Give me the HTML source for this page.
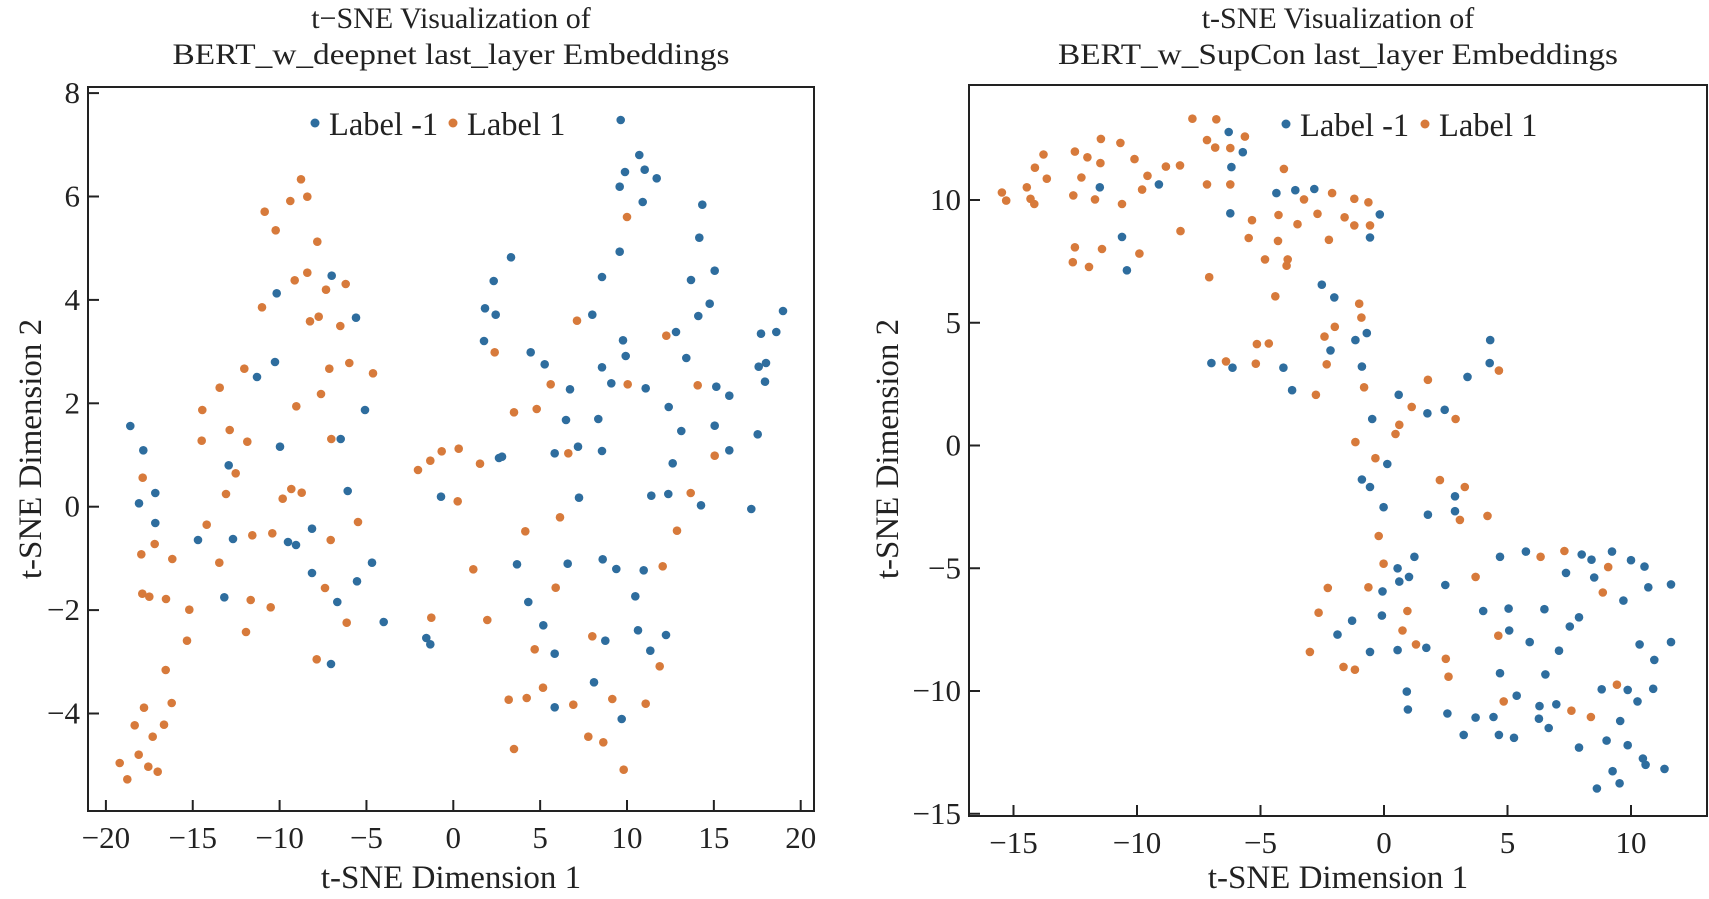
<!DOCTYPE html>
<html><head><meta charset="utf-8"><style>
html,body{margin:0;padding:0;background:#fff;}
svg{display:block;font-family:"Liberation Serif",serif;}
</style></head><body>
<svg id="s" width="1709" height="899" viewBox="0 0 1709 899" xmlns="http://www.w3.org/2000/svg">
<rect width="1709" height="899" fill="#fff"/>
<g id="pts"></g>
<g fill="#222" font-size="33" text-anchor="middle">
<text x="451" y="28" font-size="30">t−SNE Visualization of</text>
<text x="451" y="64" font-size="30" textLength="557" lengthAdjust="spacingAndGlyphs">BERT_w_deepnet last_layer Embeddings</text>
<text x="1338" y="28" font-size="30">t-SNE Visualization of</text>
<text x="1338" y="64" font-size="30" textLength="560" lengthAdjust="spacingAndGlyphs">BERT_w_SupCon last_layer Embeddings</text>
<text x="451" y="888">t-SNE Dimension 1</text>
<text x="1338" y="888">t-SNE Dimension 1</text>
<text transform="translate(41,449) rotate(-90)">t-SNE Dimension 2</text>
<text transform="translate(898,449) rotate(-90)">t-SNE Dimension 2</text>
</g>
<g id="axes" fill="none" stroke="#222" stroke-width="2"></g>
<g id="lbl" fill="#222" font-size="31"></g>
<g font-size="32.5" fill="#222">
<circle cx="315" cy="123" r="4.5" fill="#2e6d9e"/><text x="329" y="135">Label -1</text>
<circle cx="453" cy="123" r="4.5" fill="#d77a3b"/><text x="467" y="135">Label 1</text>
<circle cx="1286" cy="124" r="4.5" fill="#2e6d9e"/><text x="1300" y="136">Label -1</text>
<circle cx="1425" cy="124" r="4.5" fill="#d77a3b"/><text x="1439" y="136">Label 1</text>
</g>
</svg>
<script>
var NS="http://www.w3.org/2000/svg";
function el(p,t,a,txt){var e=document.createElementNS(NS,t);for(var k in a)e.setAttribute(k,a[k]);if(txt!==undefined)e.textContent=txt;document.getElementById(p).appendChild(e);}
var B="#2e6d9e",O="#d77a3b";
function dot(x,y,c){el("pts","circle",{cx:x.toFixed(1),cy:y.toFixed(1),r:4.3,fill:c});}
var z1b=[[391,1098],[430,1171],[830,700],[825,906],[771,951],[995,647],[1068,773],[1022,1137],[1095,1050],[840,1160],[686,1216],[1481,663],[1455,745],[1487,764],[1452,843],[1497,1194]];
var z1o=[[903,358],[922,410],[871,423],[794,455],[827,511],[952,545],[922,638],[884,661],[978,689],[1037,672],[786,742],[930,784],[956,770],[1021,798],[988,926],[1048,909],[1119,940],[963,1002],[889,1039],[733,926],[659,983],[607,1050],[689,1110],[605,1142],[742,1145],[994,1137],[1254,1230],[1291,1202],[1325,1174],[1376,1166],[1440,1211],[1484,877],[707,1240],[428,1253]];
z1b.forEach(function(p){dot(p[0]/3,60+p[1]/3,B)});z1o.forEach(function(p){dot(p[0]/3,60+p[1]/3,O)});
var z2b=[[417,130],[466,99],[466,189],[594,240],[699,237],[673,412],[936,206],[864,246],[888,255],[936,339],[1043,93],[1116,308],[1071,364],[1012,426],[1151,486],[993,612],[1279,534],[1291,553],[1323,110]];
var z2o=[[424,283],[464,252],[517,297],[620,194],[658,308],[678,102],[757,226],[817,220],[848,116],[874,87],[905,98],[1074,186],[992,240],[975,384],[752,420],[812,442],[738,516],[568,449],[498,417],[427,401],[448,410],[561,542],[497,630],[515,729],[432,743],[404,796],[492,794],[458,830],[416,884],[359,909],[445,920],[473,935],[382,958],[950,598],[1040,488],[1294,473],[1373,124],[1420,328],[1462,480]];
z2b.forEach(function(p){dot(p[0]/3,460+p[1]/3,B)});z2o.forEach(function(p){dot(p[0]/3,460+p[1]/3,O)});
var z6b=[[93,592],[422,180],[478,285],[435,336],[494,329],[530,355],[419,380],[488,426],[667,434],[658,533],[419,575],[366,651],[633,660],[704,632],[689,731],[655,768],[909,753],[337,764],[588,816],[843,821],[889,816],[429,841],[437,888],[152,877],[194,913],[366,922],[619,894],[836,920],[858,909],[855,965],[394,970],[270,988],[497,985],[709,980],[748,1007],[566,1041],[258,1080],[355,1077],[604,1113],[704,1097],[833,1123],[224,1180],[294,1160],[366,1173],[748,1171],[66,1190]];
var z6o=[[441,471],[291,782],[559,827],[212,973],[443,973],[653,976],[102,1057],[170,1047],[265,1180],[704,1187]];
z6b.forEach(function(p){dot(480+p[0]/3,60+p[1]/3,B)});z6o.forEach(function(p){dot(480+p[0]/3,60+p[1]/3,O)});
var z7b=[[578,70],[297,173],[514,167],[565,162],[663,196],[814,207],[111,373],[263,371],[368,358],[409,387],[491,391],[466,469],[145,486],[190,556],[474,571],[558,585],[376,602],[224,641],[511,632],[342,727],[224,802],[425,837]];
var z7o=[[632,159],[240,232],[136,274],[591,272],[548,379],[227,443],[337,589],[164,628],[539,679],[189,743],[86,779],[140,774],[280,794],[397,777],[497,791],[102,927],[325,890],[370,907],[431,989]];
z7b.forEach(function(p){dot(480+p[0]/3,440+p[1]/3,B)});z7o.forEach(function(p){dot(480+p[0]/3,440+p[1]/3,O)});
var rb=[[681,229],[707,264],[686,290],[443,325],[552,320],[684,370],[484,411],[493,469],[769,335],[804,330],[839,328],[960,372],[942,412],[853,494],[876,516],[936,578],[915,590],[869,608],[927,636],[782,638],[688,638],[649,630],[798,677],[1164,590],[1163,630],[1122,654],[995,685],[1048,717],[1080,711],[946,727],[974,805],[927,832],[942,845],[967,880],[1099,861],[1099,887],[1049,893],[1024,966],[993,986],[1014,1001],[996,1009],[1081,1015],[965,1026],[1182,966],[1230,957],[1304,994],[1333,962],[1351,971],[1356,1002],[1389,957],[1424,972],[1449,983],[1456,1019],[1498,1014],[1410,1042],[1151,1060],[1198,1056],[1264,1057],[1199,1094],[1237,1114],[1311,1087],[1328,1071],[1440,1118],[1498,1114],[1291,1129],[964,1068],[909,1077],[882,1101],[942,1131],[993,1128],[1046,1124],[1182,1168],[1266,1170],[1467,1145],[1370,1196],[1418,1197],[1436,1217],[1465,1195],[1010,1200],[1012,1231],[1085,1238],[1137,1245],[1170,1244],[1213,1207],[1255,1225],[1254,1247],[1272,1263],[1286,1222],[1115,1275],[1180,1275],[1208,1280],[1328,1297],[1379,1285],[1404,1251],[1418,1293],[1446,1316],[1451,1327],[1486,1334],[1390,1338],[1403,1359],[1361,1368]];
var ro=[[262,334],[270,348],[308,325],[315,345],[322,354],[323,291],[339,268],[345,310],[394,339],[397,263],[409,308],[420,273],[434,346],[445,241],[444,283],[484,354],[481,248],[507,276],[521,329],[531,305],[565,289],[591,287],[614,206],[658,207],[641,243],[656,256],[684,257],[711,237],[641,320],[684,320],[783,293],[820,346],[872,335],[913,345],[939,351],[592,401],[718,413],[724,382],[773,373],[808,389],[845,371],[895,377],[913,391],[942,391],[866,416],[397,429],[447,432],[393,455],[423,463],[516,440],[645,481],[748,450],[772,418],[788,461],[790,450],[767,514],[922,527],[926,551],[877,567],[858,584],[862,632],[733,597],[755,596],[731,631],[676,627],[842,685],[931,672],[1049,659],[1180,643],[1019,706],[1100,727],[996,737],[989,753],[915,767],[952,795],[1071,833],[1117,845],[1108,902],[1159,895],[958,930],[967,978],[1137,1001],[1257,966],[1301,956],[1382,984],[1372,1028],[864,1020],[939,1019],[847,1063],[1011,1060],[1002,1094],[1179,1103],[1027,1118],[1082,1143],[1087,1174],[831,1131],[893,1157],[914,1162],[1189,1217],[1314,1233],[1350,1244],[1398,1188]];
rb.forEach(function(p){dot(860+p[0]/1.847,p[1]/1.735,B)});ro.forEach(function(p){dot(860+p[0]/1.847,p[1]/1.735,O)});
el("axes","rect",{x:88,y:87,width:726,height:724});
el("axes","rect",{x:969,y:85,width:738,height:731});
var i,x,y;
for(i=-20;i<=20;i+=5){x=453.3+17.37*i;el("axes","line",{x1:x,y1:811,x2:x,y2:800});el("lbl","text",{x:x,y:848,"text-anchor":"middle"},(i<0?"−":"")+Math.abs(i));}
for(i=-4;i<=8;i+=2){y=506.7-51.7*i;el("axes","line",{x1:88,y1:y,x2:99,y2:y});el("lbl","text",{x:80,y:y+10,"text-anchor":"end"},(i<0?"−":"")+Math.abs(i));}
for(i=-15;i<=10;i+=5){x=1384+24.7*i;el("axes","line",{x1:x,y1:816,x2:x,y2:805});el("lbl","text",{x:x,y:853,"text-anchor":"middle"},(i<0?"−":"")+Math.abs(i));}
for(i=-15;i<=10;i+=5){y=445.5-24.55*i;el("axes","line",{x1:969,y1:y,x2:980,y2:y});el("lbl","text",{x:961,y:y+10,"text-anchor":"end"},(i<0?"−":"")+Math.abs(i));}
</script>
</body></html>
